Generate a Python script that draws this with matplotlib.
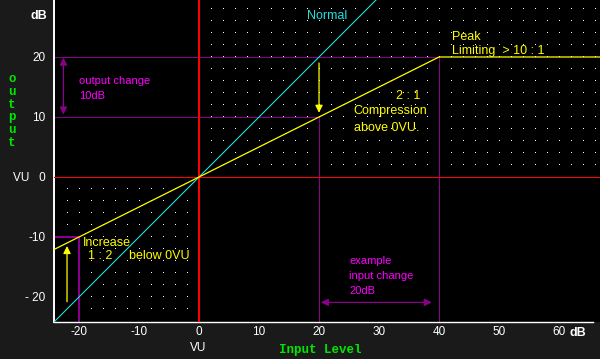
import numpy as np
import matplotlib
matplotlib.use("Agg")
import matplotlib.pyplot as plt

# ---------------- data ----------------
x_ticks = [-20, -10, 0, 10, 20, 30, 40, 50, 60]
x_tick_labels = ["-20", "-10", "0", "10", "20", "30", "40", "50", "60"]
y_ticks = [-20, -10, 0, 10, 20]
y_tick_labels = ["- 20", "-10", "VU   0", "10", "20"]

# "Normal" (1:1) transfer line
normal_in = [-24.2, 29.5]
normal_out = [-24.2, 29.5]

# compressor / limiter characteristic
comp_in = [-24.2, -20, 0, 20, 40, 67]
comp_out = [-12.1, -10, 0, 10, 20, 20]

# guide lines (purple)
guide_h = [(20, -24.2, 40), (10, -24.2, 20)]        # (y, x0, x1)
guide_v = [(20, -24.2, 10), (40, -24.2, 20)]        # (x, y0, y1)
guide_h_thick = [(-10, -24.2, -20)]
guide_v_thick = [(-20, -24.2, -10)]

# arrows: (x0, y0, x1, y1)
arrow_out_change = (-22.6, 19.9, -22.6, 10.4)
arrow_in_change = (20.3, -20.9, 38.8, -20.9)
arrow_comp = (20.0, 19.0, 20.0, 10.7)
arrow_incr = (-22.0, -20.8, -22.0, -11.5)

# ---------------- style ----------------
FIG_BG = "#1a1a1a"
PURPLE = "#8a008a"
MAGENTA = "#ff00ff"
YELLOW = "#ffff00"
CYAN = "#22e0e0"
GREEN = "#00e600"
RED = "#ff0000"

plt.rcParams["font.family"] = ["Liberation Sans", "DejaVu Sans"]

fig = plt.figure(figsize=(6, 3.59), dpi=100, facecolor=FIG_BG)
ax = fig.add_axes([54 / 600, 37 / 359, 546 / 600, 322 / 359])
ax.set_facecolor("black")
ax.set_xlim(-24.17, 66.83)
ax.set_ylim(-24.17, 29.5)

for s in ("top", "right"):
    ax.spines[s].set_visible(False)
ax.spines["left"].set_color("white")
ax.spines["bottom"].set_color("white")
ax.spines["left"].set_linewidth(1.4)
ax.spines["bottom"].set_linewidth(1.0)
ax.spines["bottom"].set_bounds(-24.17, 65.7)

ax.set_xticks(x_ticks, x_tick_labels)
ax.set_yticks(y_ticks, y_tick_labels)
ax.tick_params(axis="both", length=0, colors="white", labelsize=8.5)
ax.tick_params(axis="x", pad=3)
ax.tick_params(axis="y", pad=6)

# dotted grid (single pixels) in upper-right and lower-left quadrants
gx, gy = np.meshgrid(np.arange(2, 67, 2), np.arange(2, 29, 2))
ax.plot(gx.ravel(), gy.ravel(), ",", color="white", zorder=1)
lx, ly = np.meshgrid(np.arange(-22, 0, 2), np.arange(-22, 0, 2))
mask = ~((lx < -19) & (ly < -9))
ax.plot(lx[mask], ly[mask], ",", color="white", zorder=1)

# guide lines
for y, x0, x1 in guide_h:
    ax.plot([x0, x1], [y, y], color=PURPLE, lw=0.6, zorder=2, antialiased=False)
for x, y0, y1 in guide_v:
    ax.plot([x, x], [y0, y1], color=PURPLE, lw=0.6, zorder=2, antialiased=False)
for y, x0, x1 in guide_h_thick:
    ax.plot([x0, x1], [y, y], color=PURPLE, lw=1.2, zorder=2, antialiased=False)
for x, y0, y1 in guide_v_thick:
    ax.plot([x, x], [y0, y1], color=PURPLE, lw=1.2, zorder=2, antialiased=False)

# red axes through VU 0
ax.axhline(0, color=RED, lw=0.6, zorder=3, antialiased=False)
ax.axvline(0, color=RED, lw=1.44, zorder=3)

# transfer curves
ax.plot(normal_in, normal_out, color=CYAN, lw=0.8, zorder=4)
ax.plot(comp_in, comp_out, color=YELLOW, lw=0.9, zorder=5)

# arrows
def arrow(spec, color, style):
    x0, y0, x1, y1 = spec
    ax.annotate("", xy=(x1, y1), xytext=(x0, y0),
                arrowprops=dict(arrowstyle=style, color=color, lw=0.9,
                                shrinkA=0, shrinkB=0, mutation_scale=11),
                zorder=6)

arrow(arrow_out_change, PURPLE, "<|-|>")
arrow(arrow_in_change, PURPLE, "<|-|>")
arrow(arrow_comp, YELLOW, "-|>")
arrow(arrow_incr, YELLOW, "-|>")

# annotation texts (baseline aligned)
def note(x, y, s, color, size):
    ax.text(x, y, s, color=color, fontsize=size, va="baseline", ha="left", zorder=7)

note(18.0, 26.3, "Normal", CYAN, 9)
note(42.2, 22.83, "Peak", YELLOW, 9)
note(42.2, 20.45, "Limiting  > 10 : 1", YELLOW, 9)
note(32.8, 12.95, "2 : 1", YELLOW, 9)
note(25.8, 10.45, "Compression", YELLOW, 9)
note(25.9, 7.72, "above 0VU.", YELLOW, 9)
note(-20.0, 15.5, "output change", MAGENTA, 8)
note(-20.0, 13.0, "10dB", MAGENTA, 8)
note(-19.4, -11.5, "Increase", YELLOW, 9)
note(-18.5, -13.67, "1 : 2", YELLOW, 9)
note(-11.6, -13.67, "below 0VU", YELLOW, 9)
note(25.0, -14.5, "example", MAGENTA, 8)
note(25.0, -16.95, "input change", MAGENTA, 8)
note(25.0, -19.5, "20dB", MAGENTA, 8)

# axis decorations outside the plot (figure pixel coords)
def fig_text(px, py, s, **kw):
    fig.text(px / 600, 1 - py / 359, s, **kw)

fig_text(39, 16, "dB", color="white", fontsize=9, fontweight="bold", ha="center", va="center")
fig_text(578, 333, "dB", color="white", fontsize=9, fontweight="bold", ha="center", va="center")
fig_text(198, 348, "VU", color="white", fontsize=8.5, ha="center", va="center")
fig_text(320, 350, "Input Level", color=GREEN, fontsize=9, fontweight="bold",
         family="Liberation Mono", ha="center", va="center")
fig_text(12, 111, "o\nu\nt\np\nu\nt", color=GREEN, fontsize=9, fontweight="bold",
         family="Liberation Mono", ha="center", va="center", linespacing=1.1)

fig.savefig("out.png", dpi=100, facecolor=FIG_BG)
